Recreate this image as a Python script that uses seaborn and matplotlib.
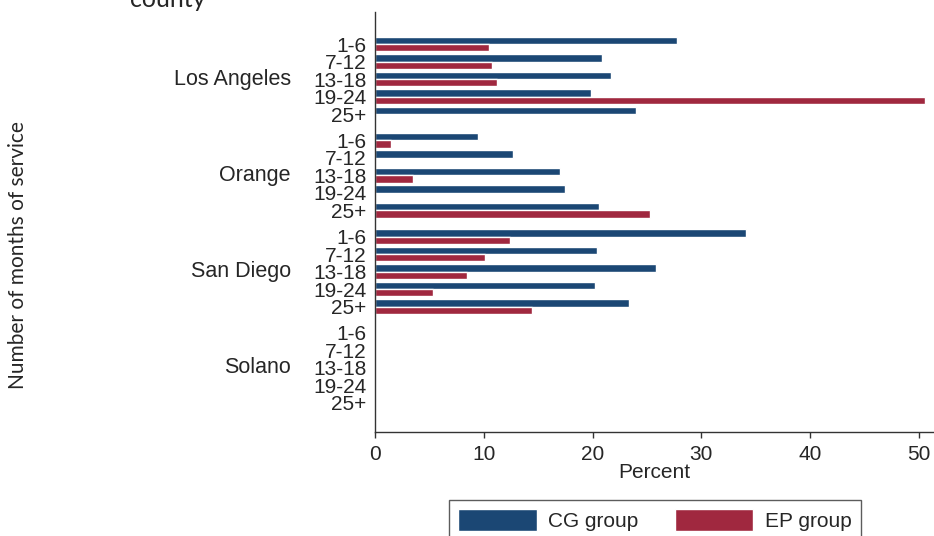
import numpy as np
import pandas as pd
import seaborn as sns
import matplotlib.pyplot as plt

# data (percent of clients by months of service)
counties = ['Los Angeles', 'Orange', 'San Diego', 'Solano']
months = ['1-6', '7-12', '13-18', '19-24', '25+']
groups = ['CG group', 'EP group']

cg_la = [27.8, 20.9, 21.7, 19.9, 24.0]
ep_la = [10.45, 10.75, 11.2, 50.6, 0]
cg_orange = [9.5, 12.7, 17.0, 17.45, 20.6]
ep_orange = [1.5, 0, 3.45, 0, 25.3]
cg_sd = [34.1, 20.4, 25.8, 20.2, 23.4]
ep_sd = [12.4, 10.1, 8.5, 5.3, 14.4]
cg_solano = [0, 0, 0, 0, 0]
ep_solano = [0, 0, 0, 0, 0]

cg_vals = [cg_la, cg_orange, cg_sd, cg_solano]
ep_vals = [ep_la, ep_orange, ep_sd, ep_solano]

colors = {'CG group': '#1b4774', 'EP group': '#a0283f'}

# y layout: 5 rows per county, a gap between counties
stride = 5.5
rows = []
for g, county in enumerate(counties):
    for i, m in enumerate(months):
        pos = g * stride + i
        rows.append((county, m, pos, 'CG group', cg_vals[g][i]))
        rows.append((county, m, pos, 'EP group', ep_vals[g][i]))
df = pd.DataFrame(rows, columns=['county', 'months', 'pos', 'group', 'percent'])

sns.set_style('ticks')
plt.rcParams['font.family'] = ['Liberation Sans', 'DejaVu Sans']

fig = plt.figure(figsize=(9.34, 5.36), dpi=100)
ax = fig.add_axes([375 / 934, 1 - 432 / 536, 559 / 934, 420 / 536])

sns.barplot(data=df, x='percent', y='pos', hue='group', hue_order=groups,
            orient='y', native_scale=True, palette=colors, saturation=1,
            width=0.85, errorbar=None, ax=ax)

ax.set_xlim(0, 51.4)
ax.set_ylim(22.17, -1.83)

positions = df['pos'].unique()
ax.set_yticks(positions)
ax.set_yticklabels(months * len(counties), fontsize=15)
ax.tick_params(axis='y', length=0, pad=6)
ax.set_xticks([0, 10, 20, 30, 40, 50])
ax.tick_params(axis='x', length=4, width=1, pad=5, labelsize=15, color='#333333')
ax.set_xlabel('Percent', fontsize=15, labelpad=0)
ax.set_ylabel('')

for s in ['top', 'right']:
    ax.spines[s].set_visible(False)
for s in ['left', 'bottom']:
    ax.spines[s].set_color('#333333')
    ax.spines[s].set_linewidth(1)

# county names beside each block of rows
for g, county in enumerate(counties):
    ax.text(-84 / 559, g * stride + 2, county, transform=ax.get_yaxis_transform(),
            ha='right', va='center', fontsize=15.5)

handles, labels = ax.get_legend_handles_labels()
ax.get_legend().remove()
fig.legend(handles, labels, loc='upper left', bbox_to_anchor=(449 / 934, 1 - 500 / 536),
           ncol=2, frameon=True, fancybox=False, edgecolor='#333333', fontsize=15,
           handlelength=3.76, handleheight=1.2, handletextpad=0.55, columnspacing=1.75,
           borderpad=0.45, borderaxespad=0)

fig.text(18 / 934, 1 - 255 / 536, 'Number of months of service', rotation=90,
         ha='center', va='center', fontsize=15, family=['Lato', 'DejaVu Sans'])
fig.text(130 / 934, 1 - 7 / 536, 'county', ha='left', va='baseline',
         fontsize=18, family=['Lato', 'DejaVu Sans'])

fig.savefig('out.png', dpi=100)
